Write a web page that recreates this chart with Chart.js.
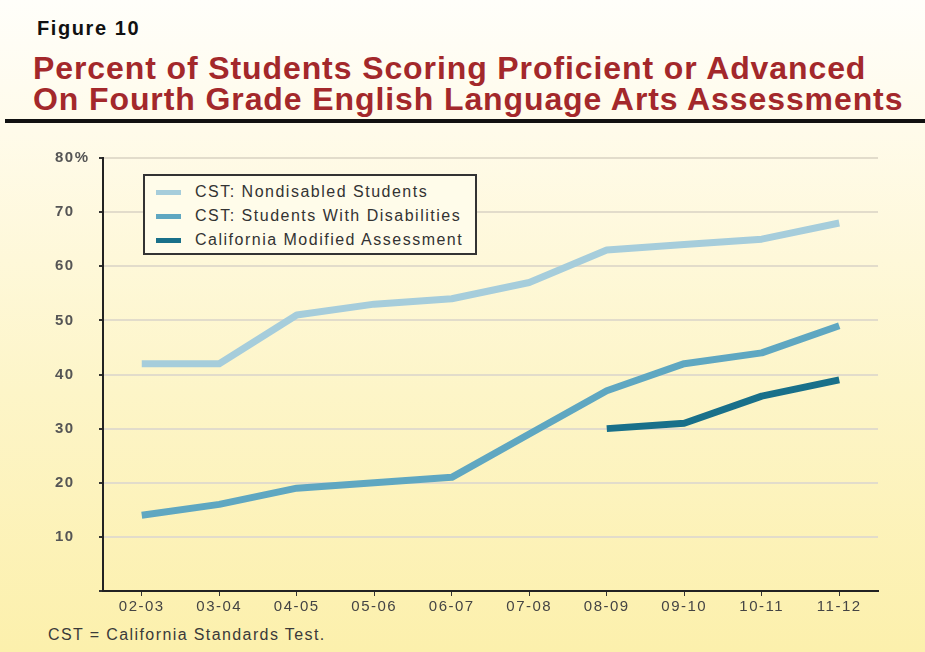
<!DOCTYPE html>
<html>
<head>
<meta charset="utf-8">
<script src="https://cdn.jsdelivr.net/npm/chart.js@4"></script>
<style>
  html, body { margin: 0; padding: 0; }
  body {
    width: 925px; height: 652px; position: relative; overflow: hidden;
    font-family: "Liberation Sans", Arial, sans-serif;
    background: linear-gradient(to bottom, #fffefa 0%, #fffbea 20%, #fdf5c8 60%, #fcf0ac 100%);
  }
  #fig { position: absolute; left: 37px; top: 17px; font-size: 20px; font-weight: bold; color: #111; letter-spacing: 1.6px; }
  #title { position: absolute; left: 33px; top: 53px; font-size: 32px; font-weight: bold; color: #a3282b; line-height: 31px; letter-spacing: 0.9px; white-space: nowrap; }
  #rule { position: absolute; left: 5px; right: 0; top: 119px; height: 4px; background: #111; }
  #note { position: absolute; left: 48px; top: 626px; font-size: 16px; color: #3a3a3a; letter-spacing: 1.4px; }
  #wrap { position: absolute; left: 0; top: 140px; }
  #legend {
    position: absolute; left: 143px; top: 174px; width: 330px; height: 77px;
    border: 2px solid #333; background: #fffcea; font-size: 16px; color: #333; letter-spacing: 1.5px;
  }
  #legend div { position: absolute; left: 50px; line-height: 18px; white-space: nowrap; }
  #legend span { position: absolute; left: -39px; top: 7px; width: 25px; height: 5px; }
</style>
</head>
<body>
<div id="fig">Figure 10</div>
<div id="title">Percent of Students Scoring Proficient or Advanced<br>On Fourth Grade English Language Arts Assessments</div>
<div id="rule"></div>
<div id="wrap"><canvas id="chart" width="900" height="480"></canvas></div>
<div id="legend"></div>
<div id="note">CST = California Standards Test.</div>
<script>
const years = ["02-03", "03-04", "04-05", "05-06", "06-07", "07-08", "08-09", "09-10", "10-11", "11-12"];
const nondisabled = [42, 42, 51, 53, 54, 57, 63, 64, 65, 68];
const withDisabilities = [14, 16, 19, 20, 21, 29, 37, 42, 44, 49];
const modifiedAssessment = [null, null, null, null, null, null, 30, 31, 36, 39];
const seriesNames = ["CST: Nondisabled Students", "CST: Students With Disabilities", "California Modified Assessment"];
const seriesColors = ["#a6cddb", "#5fa7c1", "#19708a"];
const yTicks = [0, 10, 20, 30, 40, 50, 60, 70, 80];

const legend = document.getElementById("legend");
seriesNames.forEach((name, i) => {
  const row = document.createElement("div");
  row.style.top = (7 + i * 24) + "px";
  row.innerHTML = `<span style="background:${seriesColors[i]}"></span>${name}`;
  legend.appendChild(row);
});

const allSeries = [nondisabled, withDisabilities, modifiedAssessment];

// wider tracking on the tick labels, like the scanned original
const spacing = {
  id: "spacing",
  beforeUpdate: chart => { chart.ctx.letterSpacing = "1.5px"; },
  beforeDraw: chart => { chart.ctx.letterSpacing = "1.5px"; },
};

new Chart(document.getElementById("chart"), {
  type: "line",
  data: {
    labels: years,
    datasets: allSeries.map((data, i) => ({
      label: seriesNames[i],
      data,
      borderColor: seriesColors[i],
      borderWidth: 7,
      pointRadius: 0,
      tension: 0,
      borderJoinStyle: "round",
    })),
  },
  options: {
    responsive: false,
    animation: false,
    devicePixelRatio: 1,
    layout: { padding: { top: 18, right: 22, left: 55, bottom: 0 } },
    plugins: { legend: { display: false }, tooltip: { enabled: false } },
    scales: {
      x: {
        offset: true,
        grid: { drawOnChartArea: false, tickLength: 5, tickColor: "#333", offset: false },
        border: { color: "#222", width: 2 },
        ticks: { color: "#444", font: { size: 15, family: "Liberation Sans" }, padding: 2, maxRotation: 0 },
        afterFit: s => { s.height = 29; },
      },
      y: {
        min: 0, max: 80,
        afterBuildTicks: s => { s.ticks = yTicks.map(v => ({ value: v })); },
        grid: { color: "#e2dccb", lineWidth: 2, tickLength: 4, tickColor: "#333" },
        border: { color: "#222", width: 2 },
        ticks: {
          color: "#555", font: { size: 15, family: "Liberation Sans", weight: "bold" }, crossAlign: "far",
          callback: v => v === 0 ? "" : v === 80 ? "80%" : v,
        },
        afterFit: s => { s.width = 48; },
      },
    },
  },
  plugins: [spacing],
});
</script>
</body>
</html>
